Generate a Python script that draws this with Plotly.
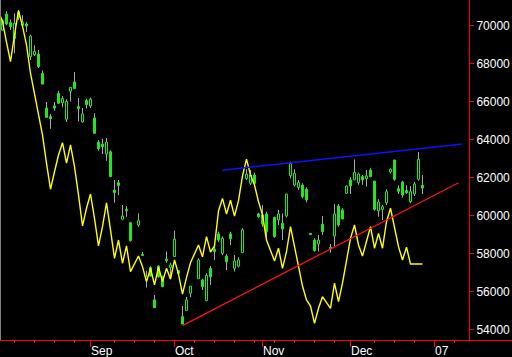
import numpy as np
import pandas as pd
import plotly.graph_objects as go

# ---------------- data ----------------
holidays = ["2006-09-18", "2006-10-09", "2006-11-03", "2006-11-23"]
candle_dates = [d for d in pd.bdate_range("2006-08-02", "2006-12-27").strftime("%Y-%m-%d") if d not in holidays]
line_dates = [d for d in pd.bdate_range("2006-08-01", "2006-12-27").strftime("%Y-%m-%d") if d not in holidays]

open_ = [69770, 70610, 70160, 69320, 70690, 70020, 70090, 68370, 68480, 68510, 67490, 65670, 65220, 65780,
         66440, 65950, 65080, 66550, 67040, 65740, 64940, 66060, 65780, 65150, 63880, 63780, 63250, 63370,
         61360, 61740, 59820, 60340, 59640, 59520, 57960, 56630, 57290, 55580, 57360, 56800, 57720, 57290,
         57860, 57120, 54700, 55020, 55930, 56700, 56630, 55540, 57240, 58240, 59050, 58030, 57890, 59050,
         57240, 57360, 58070, 61970, 61710, 62150, 60100, 60050, 60100, 59920, 59780, 59610, 59990, 62110,
         61620, 61500, 61620, 61400, 59080, 58730, 58520, 59570, 58270, 58940, 60520, 60310, 61190, 61890,
         61890, 61750, 62060, 61960, 62410, 61830, 60270, 60340, 60690, 62310, 62940, 61430, 61780, 61330,
         60750, 61150, 61920, 61610]
high = [70330, 70760, 70330, 70650, 70830, 70550, 70190, 69530, 68970, 68720, 67640, 65990, 65360, 65990,
        66580, 66300, 66130, 66760, 67570, 66200, 65670, 66160, 66230, 65390, 63990, 64060, 64090, 63450,
        61880, 61880, 60570, 60520, 59640, 60130, 58110, 57120, 57350, 55840, 57400, 56850, 58120, 57540,
        59220, 57150, 55260, 55750, 56310, 57770, 56700, 56980, 57360, 58470, 59170, 58910, 58000, 59170,
        57940, 57820, 59350, 62450, 62410, 62270, 60170, 60570, 60220, 59950, 60310, 60130, 61150, 62850,
        62450, 61890, 61710, 61500, 59100, 58820, 58990, 59990, 58520, 60620, 60620, 60400, 61600, 62030,
        62970, 62270, 62150, 62410, 62500, 61830, 60870, 60570, 61400, 62500, 62940, 61610, 61850, 61610,
        61570, 61780, 63360, 62150]
low = [69740, 70020, 69770, 68550, 70300, 69950, 69670, 68200, 68410, 67780, 66930, 65180, 64580, 65530,
       65880, 65710, 64940, 66020, 66690, 64970, 64900, 65640, 65670, 64340, 63430, 63250, 62900, 62060,
       60690, 61080, 59820, 59960, 58650, 59430, 57890, 56240, 56800, 55170, 56750, 56250, 57540, 56800,
       57860, 56950, 54310, 55020, 55720, 56700, 56100, 55540, 56370, 57680, 58630, 57930, 57150, 58470,
       57070, 57290, 58070, 61890, 61620, 61680, 59900, 59430, 58820, 58850, 59520, 58730, 59920, 61970,
       61540, 61360, 60920, 60700, 59000, 58120, 58120, 58990, 58060, 58420, 59430, 59820, 61150, 61150,
       61890, 61640, 61640, 61540, 62030, 60270, 59960, 59780, 60570, 62240, 61850, 61150, 60970, 61150,
       60660, 61040, 61850, 61150]
close = [70260, 70090, 69950, 70120, 70440, 70190, 69980, 69460, 68650, 67850, 66930, 65180, 65110, 65670,
         65920, 66180, 66020, 66760, 66690, 65640, 65360, 65850, 66130, 64340, 63530, 63640, 63880, 62060,
         61220, 61600, 59990, 60270, 58700, 59750, 57920, 56800, 56840, 55170, 56800, 56280, 57650, 57420,
         58770, 56980, 54310, 55580, 56310, 57680, 56280, 56870, 56800, 58120, 58730, 58820, 57590, 58800,
         57630, 57680, 59260, 62200, 62150, 61710, 59960, 59570, 59170, 58910, 60100, 59310, 61150, 62760,
         62240, 61750, 61010, 60840, 59010, 58170, 58730, 59170, 58350, 60100, 59520, 59840, 61570, 61570,
         62290, 62200, 61890, 62100, 62060, 60340, 60730, 60480, 61270, 62450, 61920, 61290, 61100, 61220,
         61270, 61680, 62970, 61470]

yellow_line = [70760, 70210, 69130, 68110, 69510, 70790, 69980, 68990, 67500, 66450, 65480, 64250, 62770,
               61400, 62320, 63200, 63850, 62770, 63730, 62590, 61100, 59470, 60400, 61150, 59870, 58420,
               59430, 60690, 59260, 57770, 58730, 57510, 58420, 57070, 57890, 57330, 56540, 57240, 56370,
               57300, 56540, 57240, 56670, 57680, 56940, 55890, 56750, 57540, 58470, 57850, 58910, 58100,
               58420, 60260, 60920, 60100, 60820, 59990, 60800, 62100, 62980, 62150, 61620, 60750, 60050,
               58730, 57630, 58300, 57240, 58120, 59430, 58380, 57240, 56310, 55580, 55260, 54350, 55140,
               55750, 55140, 56460, 55490, 56460, 57680, 58820, 59520, 58470, 57890, 58700, 59430, 58300,
               59080, 58300, 59690, 60400, 59430, 58380, 57680, 58350, 57470, 57470, 57470, 57470]

support_dates = ["2006-10-04", "2007-01-09"]
support_vals = [54230, 61740]
resist_dates = ["2006-10-18", "2007-01-10"]
resist_vals = [62400, 63780]

month_tick_dates = ["2006-09-01", "2006-10-02", "2006-11-01", "2006-12-01", "2007-01-01"]
month_tick_labels = ["Sep", "Oct", "Nov", "Dec", "07"]
week_tick_dates = ["2006-08-07", "2006-08-14", "2006-08-21", "2006-08-28", "2006-09-11", "2006-09-18",
                   "2006-09-25", "2006-10-09", "2006-10-16", "2006-10-23", "2006-10-30", "2006-11-06",
                   "2006-11-13", "2006-11-20", "2006-11-27", "2006-12-11", "2006-12-18", "2006-12-25",
                   "2007-01-08"]
price_ticks = [54000, 56000, 58000, 60000, 62000, 64000, 66000, 68000, 70000]


def pos(dates):
    return np.busday_count("2006-09-01", np.array(dates, dtype="datetime64[D]")).astype(float)


GREEN = "#22e622"
x_c = pos(candle_dates)
o = np.array(open_, float); h = np.array(high, float); l = np.array(low, float); c = np.array(close, float)
body_base = np.minimum(o, c)
body_h = np.maximum(np.abs(c - o), 55)
fill = [GREEN if cc < oo else "#000000" for oo, cc in zip(o, c)]

fig = go.Figure()
fig.add_trace(go.Bar(x=x_c, y=h - l, base=l, width=0.25,
                     marker=dict(color="#a8a8a8", line=dict(width=0)), hoverinfo="skip"))
fig.add_trace(go.Bar(x=x_c, y=body_h, base=body_base, width=0.5,
                     marker=dict(color=fill, line=dict(color=GREEN, width=1)), hoverinfo="skip"))
fig.add_trace(go.Scatter(x=pos(line_dates), y=yellow_line, mode="lines",
                         line=dict(color="#ffff00", width=1.4), hoverinfo="skip"))
fig.add_trace(go.Scatter(x=pos(support_dates), y=support_vals, mode="lines",
                         line=dict(color="#ff1010", width=1.3), hoverinfo="skip"))
fig.add_trace(go.Scatter(x=pos(resist_dates), y=resist_vals, mode="lines",
                         line=dict(color="#1010ff", width=1.5), hoverinfo="skip"))

W, H = 512, 357
ML, MR, MT, MB = 0, 43, 0, 17
pw = W - ML - MR
ph = H - MT - MB

fig.update_layout(
    width=W, height=H,
    margin=dict(l=ML, r=MR, t=MT, b=MB, pad=0),
    paper_bgcolor="#000000", plot_bgcolor="#000000",
    showlegend=False, barmode="overlay",
    font=dict(family="Liberation Sans, Arial, sans-serif", size=12, color="#ffffff"),
    xaxis=dict(range=[-22.625, 94.625], showgrid=False, zeroline=False, showline=False,
               tickmode="array", tickvals=pos(month_tick_dates), ticktext=month_tick_labels,
               ticks="outside", ticklen=6, tickwidth=1, tickcolor="#ff0000",
               ticklabelposition="outside right",
               tickfont=dict(size=12, color="#ffffff"),
               minor=dict(tickmode="array", tickvals=pos(week_tick_dates), ticks="outside",
                          ticklen=2, tickwidth=1, tickcolor="#ff0000", showgrid=False),
               fixedrange=True),
    yaxis=dict(range=[53473, 71351], side="right", showgrid=False, zeroline=False,
               showline=True, linecolor="#ff0000", linewidth=1,
               tickmode="array", tickvals=price_ticks, ticktext=[str(v) for v in price_ticks],
               ticks="outside", ticklen=4, tickwidth=1, tickcolor="#ff0000",
               tickfont=dict(size=12, color="#ffffff"), fixedrange=True),
    shapes=[
        dict(type="line", xref="paper", yref="paper", x0=0.5 / pw, x1=0.5 / pw, y0=0, y1=1,
             line=dict(color="#808080", width=1)),
        dict(type="line", xref="paper", yref="paper", x0=0, x1=W / pw, y0=-0.5 / ph, y1=-0.5 / ph,
             line=dict(color="#ff0000", width=1)),
    ],
)

fig.write_html("out.html", config={"displayModeBar": False})
